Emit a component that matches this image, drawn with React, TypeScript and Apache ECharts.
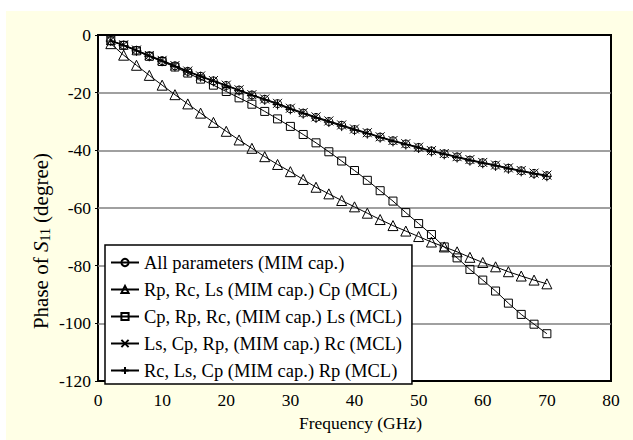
import React, { useEffect, useRef } from "react";
import * as echarts from "echarts";

const freq = [2, 4, 6, 8, 10, 12, 14, 16, 18, 20, 22, 24, 26, 28, 30, 32, 34, 36, 38, 40, 42, 44, 46, 48, 50, 52, 54, 56, 58, 60, 62, 64, 66, 68, 70];

const allParams = [-2.0, -3.5, -5.3, -7.2, -8.9, -10.7, -12.6, -14.3, -15.9, -17.5, -19.1, -20.8, -22.3, -23.8, -25.6, -27.1, -28.6, -30.0, -31.3, -32.8, -34.0, -35.4, -36.7, -37.8, -39.0, -40.2, -41.2, -42.3, -43.4, -44.3, -45.2, -46.2, -47.1, -48.0, -48.8];
const cpMcl = [-3.0, -7.0, -10.5, -14.0, -17.4, -20.7, -23.9, -27.1, -30.3, -33.4, -36.4, -39.3, -42.2, -44.9, -47.4, -50.1, -52.8, -55.1, -57.4, -59.6, -61.8, -64.0, -66.1, -68.0, -69.9, -71.8, -73.5, -75.2, -77.1, -78.9, -80.4, -82.1, -83.6, -85.0, -86.3];
const lsMcl = [-2.0, -3.6, -5.5, -7.4, -9.2, -11.1, -13.2, -15.3, -17.4, -19.6, -21.8, -24.0, -26.5, -29.1, -31.7, -34.5, -37.4, -40.5, -43.7, -47.0, -50.4, -54.0, -57.6, -61.6, -65.4, -69.2, -73.5, -77.3, -81.3, -85.0, -88.8, -93.0, -96.9, -100.3, -103.6];
const rcMcl = [-1.9, -3.4, -5.2, -7.1, -8.8, -10.6, -12.5, -14.2, -15.8, -17.4, -19.0, -20.7, -22.2, -23.7, -25.4, -26.9, -28.4, -29.8, -31.2, -32.6, -33.9, -35.3, -36.6, -37.7, -38.9, -40.1, -41.1, -42.2, -43.2, -44.2, -45.1, -46.1, -47.0, -47.9, -48.6];
const rpMcl = [-2.1, -3.7, -5.5, -7.4, -9.1, -10.9, -12.8, -14.5, -16.1, -17.7, -19.3, -21.0, -22.5, -24.1, -25.8, -27.3, -28.8, -30.2, -31.6, -33.0, -34.2, -35.6, -36.9, -38.0, -39.2, -40.4, -41.4, -42.5, -43.6, -44.5, -45.4, -46.4, -47.3, -48.2, -49.0];

const seriesNames = [
  "All parameters (MIM cap.)",
  "Rp, Rc, Ls (MIM cap.) Cp (MCL)",
  "Cp, Rp, Rc, (MIM cap.) Ls (MCL)",
  "Ls, Cp, Rp, (MIM cap.) Rc (MCL)",
  "Rc, Ls, Cp (MIM cap.) Rp (MCL)",
];
const seriesValues = [allParams, cpMcl, lsMcl, rcMcl, rpMcl];
const seriesSymbols = [
  "circle",
  "triangle",
  "rect",
  "path://M0,0L10,10M10,0L0,10",
  "path://M5,0L5,10M0,5L10,5",
];
const symbolSizes = [8, 10, 8, 9, 10];

const xTicks = { min: 0, max: 80, interval: 10 };
const yTicks = { min: -120, max: 0, interval: 20 };
const yTitle = "Phase of {i|S}{s|11} (degree)";
const xTitle = "Frequency (GHz)";

const FONT = '"Liberation Serif", "Times New Roman", serif';

export default function App() {
  const ref = useRef<HTMLDivElement>(null);
  useEffect(() => {
    if (!ref.current) return;
    const chart = echarts.init(ref.current, null, { renderer: "svg" });
    const series = seriesNames.map((name, k) => ({
      name,
      type: "line",
      data: freq.map((f, i) => [f, seriesValues[k][i]]),
      symbol: seriesSymbols[k],
      symbolSize: symbolSizes[k],
      showAllSymbol: true,
      lineStyle: { color: "#000", width: 1 },
      itemStyle: { color: "none", borderColor: "#000", borderWidth: 1 },
      emphasis: { disabled: true },
    }));
    chart.setOption({
      animation: false,
      backgroundColor: "#FFFFE6",
      textStyle: { fontFamily: FONT },
      grid: {
        left: 92,
        top: 24,
        right: 22,
        bottom: 59,
        show: true,
        backgroundColor: "#fff",
        borderColor: "#000",
        borderWidth: 2,
      },
      graphic: [
        {
          type: "text",
          x: 35,
          y: 230,
          rotation: Math.PI / 2,
          silent: true,
          style: {
            text: yTitle,
            fontFamily: FONT,
            fontSize: 21,
            fill: "#000",
            align: "center",
            verticalAlign: "middle",
            rich: {
              i: { fontFamily: FONT, fontSize: 21, fontStyle: "italic", fill: "#000" },
              s: { fontFamily: FONT, fontSize: 14, fill: "#000", padding: [9, 0, 0, 0] },
            },
          },
        },
      ],
      legend: {
        orient: "vertical",
        left: 99,
        top: 234,
        backgroundColor: "#fff",
        borderColor: "#000",
        borderWidth: 1.5,
        padding: [8, 10, 4, 5],
        itemWidth: 28,
        itemHeight: 9,
        itemGap: 8,
        align: "left",
        textStyle: { fontFamily: FONT, fontSize: 18.5, color: "#000", lineHeight: 18 },
        data: seriesNames,
      },
      xAxis: {
        type: "value",
        ...xTicks,
        name: xTitle,
        nameLocation: "middle",
        nameGap: 30,
        nameTextStyle: { fontFamily: FONT, fontSize: 17.5, color: "#000", padding: [0, 0, 0, 12] },
        axisLine: { show: false },
        axisTick: { show: false },
        axisLabel: { fontFamily: FONT, fontSize: 17.5, color: "#000", margin: 10 },
        splitLine: { show: false },
      },
      yAxis: {
        type: "value",
        ...yTicks,
        axisLine: { show: false },
        axisTick: { show: true, length: 3, lineStyle: { color: "#000" } },
        axisLabel: { fontFamily: FONT, fontSize: 17.5, color: "#000", margin: 7 },
        splitLine: {
          show: true,
          showMinLine: false,
          showMaxLine: false,
          lineStyle: { color: "#808080", width: 1.5 },
        },
      },
      series,
    });
    return () => chart.dispose();
  }, []);
  return (
    <div style={{ position: "fixed", left: 0, top: 0, width: 633, height: 440, background: "#fff" }}>
      <div ref={ref} style={{ position: "absolute", left: 6, top: 11, width: 627, height: 429 }} />
    </div>
  );
}
